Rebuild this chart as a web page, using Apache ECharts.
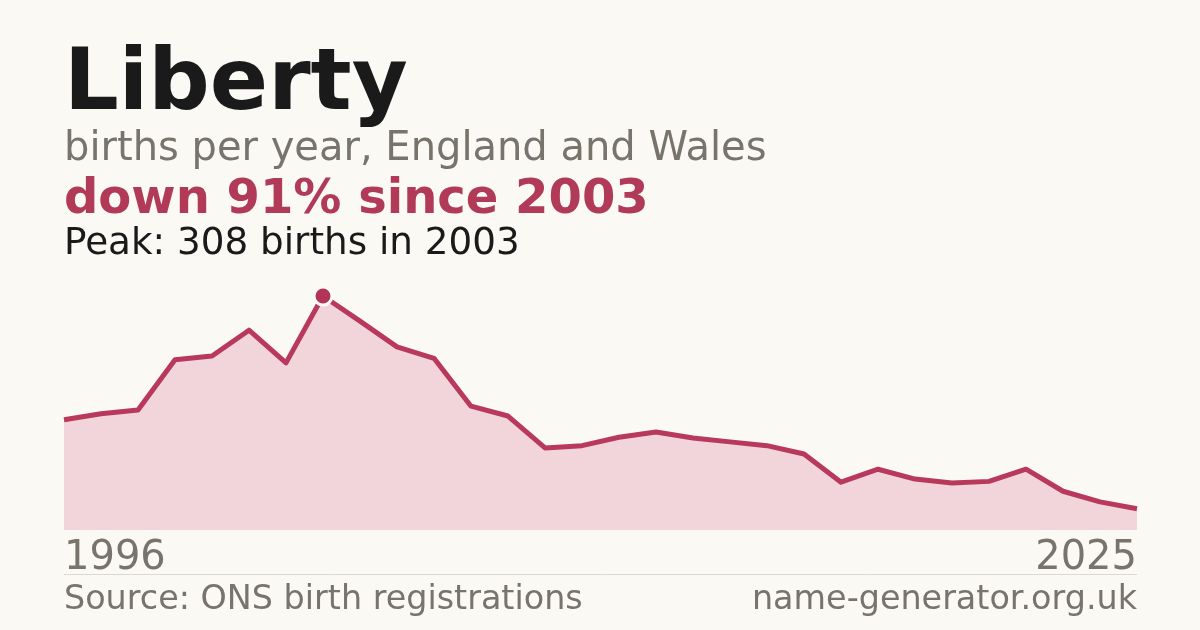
<!DOCTYPE html>
<html>
<head>
<meta charset="utf-8">
<script src="https://cdn.jsdelivr.net/npm/echarts@6/dist/echarts.min.js"></script>
<style>
html,body{margin:0;padding:0;background:#faf9f4;}
#chart{width:1200px;height:630px;}
</style>
</head>
<body>
<div id="chart"></div>
<script>
const years = ["1996","1997","1998","1999","2000","2001","2002","2003","2004","2005","2006","2007","2008","2009","2010","2011","2012","2013","2014","2015","2016","2017","2018","2019","2020","2021","2022","2023","2024","2025"];
const births = [145,153,158,224,229,263,220,308,275,241,226,163,150,108,111,122,129,121,116,111,100,63,80,67,62,64,80,51,37,28];
const titleText = "Liberty";
const subtitleText = "births per year, England and Wales";
const changeText = "down 91% since 2003";
const peakText = "Peak: 308 births in 2003";
const sourceText = "Source: ONS birth registrations";
const siteText = "name-generator.org.uk";

const peakIdx = births.indexOf(Math.max(...births));
const FONT = "'DejaVu Sans', sans-serif";
const red = "#b8395c";
const gray = "#78746c";

const chart = echarts.init(document.getElementById('chart'), null, {renderer:'canvas'});
chart.setOption({
  backgroundColor: '#faf9f4',
  animation: false,
  grid: {left: 64, right: 63, top: 296, bottom: 100},
  xAxis: {
    type: 'category',
    data: years,
    boundaryGap: false,
    axisLine: {show: false},
    axisTick: {show: false},
    splitLine: {show: false},
    axisLabel: {
      interval: (i) => i === 0 || i === years.length - 1,
      showMinLabel: true,
      showMaxLabel: true,
      alignMinLabel: 'left',
      alignMaxLabel: 'right',
      color: gray,
      fontFamily: FONT,
      fontSize: 40,
      margin: 9
    }
  },
  yAxis: {
    type: 'value',
    min: 0,
    max: 308,
    show: false,
    splitLine: {show: false}
  },
  series: [
    {
      type: 'line',
      data: births,
      symbol: 'none',
      lineStyle: {color: red, width: 5, join: 'round'},
      areaStyle: {color: '#f2d5db', opacity: 1},
      z: 2
    },
    {
      type: 'scatter',
      data: [[peakIdx, births[peakIdx]]],
      symbol: 'circle',
      symbolSize: 18,
      itemStyle: {color: '#b3345a', borderColor: '#fbfaf6', borderWidth: 3, opacity: 1},
      z: 5
    }
  ],
  graphic: [
    {type:'text', left: 64, top: 44, style:{text: titleText, font: "bold 86px " + FONT, fill:'#1a1a1a'}},
    {type:'text', left: 64, top: 130, style:{text: subtitleText, font: "40px " + FONT, fill: gray}},
    {type:'text', left: 64, top: 177, style:{text: changeText, font: "bold 48px " + FONT, fill: '#b03a58'}},
    {type:'text', left: 64, top: 226, style:{text: peakText, font: "37.3px " + FONT, fill: '#1a1a1a'}},
    {type:'line', shape:{x1:64, y1:574.5, x2:1137, y2:574.5}, style:{stroke:'#dcd9d1', lineWidth:1}},
    {type:'text', left: 64, top: 584, style:{text: sourceText, font: "33.4px " + FONT, fill: gray}},
    {type:'text', right: 63, top: 584, style:{text: siteText, font: "33.4px " + FONT, fill: gray}}
  ]
});
</script>
</body>
</html>
